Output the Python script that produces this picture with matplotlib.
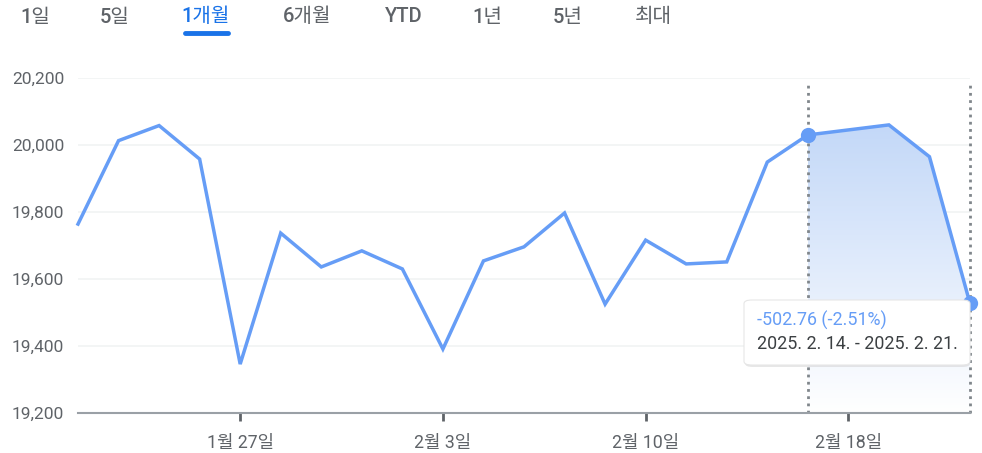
import numpy as np
import matplotlib.pyplot as plt
from matplotlib.patches import FancyBboxPatch
from matplotlib.colors import LinearSegmentedColormap

plt.rcParams['font.family'] = ['Roboto', 'Noto Sans CJK KR', 'DejaVu Sans']

# trading-day slots (slot 19 has no data point)
slots = [0, 1, 2, 3, 4, 5, 6, 7, 8, 9, 10, 11, 12, 13, 14, 15, 16, 17, 18, 20, 21, 22]
values = [19764, 20013, 20058, 19958, 19346, 19737, 19636, 19684, 19630, 19391,
          19654, 19696, 19797, 19525, 19716, 19645, 19651, 19949, 20030, 20060,
          19965, 19527]
tick_slots = [4, 9, 14, 19]
tick_labels = ['1월 27일', '2월 3일', '2월 10일', '2월 18일']
y_ticks = [19200, 19400, 19600, 19800, 20000, 20200]
tabs = ['1일', '5일', '1개월', '6개월', 'YTD', '1년', '5년', '최대']
tab_x = [35, 115, 206, 307, 404, 487, 568, 653]
sel_start, sel_end = 18, 22
change_text = '-502.76 (-2.51%)'
range_text = '2025. 2. 14. - 2025. 2. 21.'

blue = '#669df6'
grey = '#5f6368'

W, H = 982, 453
fig = plt.figure(figsize=(W / 100, H / 100), dpi=100)
ax = fig.add_axes([78 / W, 40 / H, 892 / W, 335 / H])

ax.plot(slots, values, color=blue, lw=2.5, solid_joinstyle='miter', zorder=3, clip_on=False)

# gradient fill under the selected range
sx = [s for s in slots if sel_start <= s <= sel_end]
sv = [v for s, v in zip(slots, values) if sel_start <= s <= sel_end]
poly = ax.fill_between(sx, sv, 19200, color='none', lw=0)
cmap = LinearSegmentedColormap.from_list('g', ['#ffffff', '#c3d8f8'])
grad = np.linspace(0, 1, 256).reshape(-1, 1)
img = ax.imshow(grad, extent=[sel_start, sel_end, 19200, max(sv)], origin='lower',
                cmap=cmap, aspect='auto', zorder=1)
img.set_clip_path(poly.get_paths()[0], transform=ax.transData)

for s in (sel_start, sel_end):
    ax.axvline(s, ymin=0, ymax=0.985, color='#80868b', lw=2, ls=(0, (1, 1.6)), zorder=2, clip_on=False)

ax.set_xlim(0, 22)
ax.set_ylim(19200, 20200)
ax.set_yticks(y_ticks)
ax.set_yticklabels([f'{v:,}' for v in y_ticks])
ax.set_xticks(tick_slots)
ax.set_xticklabels(tick_labels)
ax.grid(axis='y', color='#f1f3f4', lw=1.2, zorder=0)
ax.set_axisbelow(True)
for sp in ['top', 'right', 'left']:
    ax.spines[sp].set_visible(False)
ax.spines['bottom'].set_color('#9aa0a6')
ax.spines['bottom'].set_linewidth(1.5)
ax.tick_params(axis='y', length=0, pad=10, labelsize=12.5, labelcolor=grey)
ax.tick_params(axis='x', length=6, width=2, color=grey, pad=9, labelsize=12.8, labelcolor=grey)

# tooltip
shadow = FancyBboxPatch((745 / W, 86 / H), 225 / W, 64 / H, boxstyle='round,pad=0,rounding_size=0.008',
                        transform=fig.transFigure, fc='#d0d0d0', ec='none', alpha=0.5, zorder=4)
box = FancyBboxPatch((744 / W, 88 / H), 226 / W, 65 / H, boxstyle='round,pad=0,rounding_size=0.008',
                     transform=fig.transFigure, fc='white', ec='#e6e6e6', lw=0.8, zorder=5)
fig.patches.extend([shadow, box])
fig.text(757 / W, 133 / H, change_text, color=blue, fontsize=12.9, va='center', zorder=6)
fig.text(757 / W, 109 / H, range_text, color='#3c4043', fontsize=12.9, va='center', zorder=6)

# end markers
ax.plot([sel_start, sel_end], [values[slots.index(sel_start)], values[slots.index(sel_end)]],
        'o', color=blue, ms=11, mec='none', zorder=7, clip_on=False)

# period tabs
for lab, x in zip(tabs, tab_x):
    c = '#1a73e8' if lab == '1개월' else grey
    fig.text(x / W, 1 - 17 / H, lab, color=c, fontsize=14.5, fontweight=500, ha='center', va='center')
fig.add_artist(plt.Line2D([185 / W, 228 / W], [1 - 33 / H] * 2, color='#1a73e8', lw=3.5,
                          solid_capstyle='round', transform=fig.transFigure))

fig.savefig('out.png', dpi=100)
